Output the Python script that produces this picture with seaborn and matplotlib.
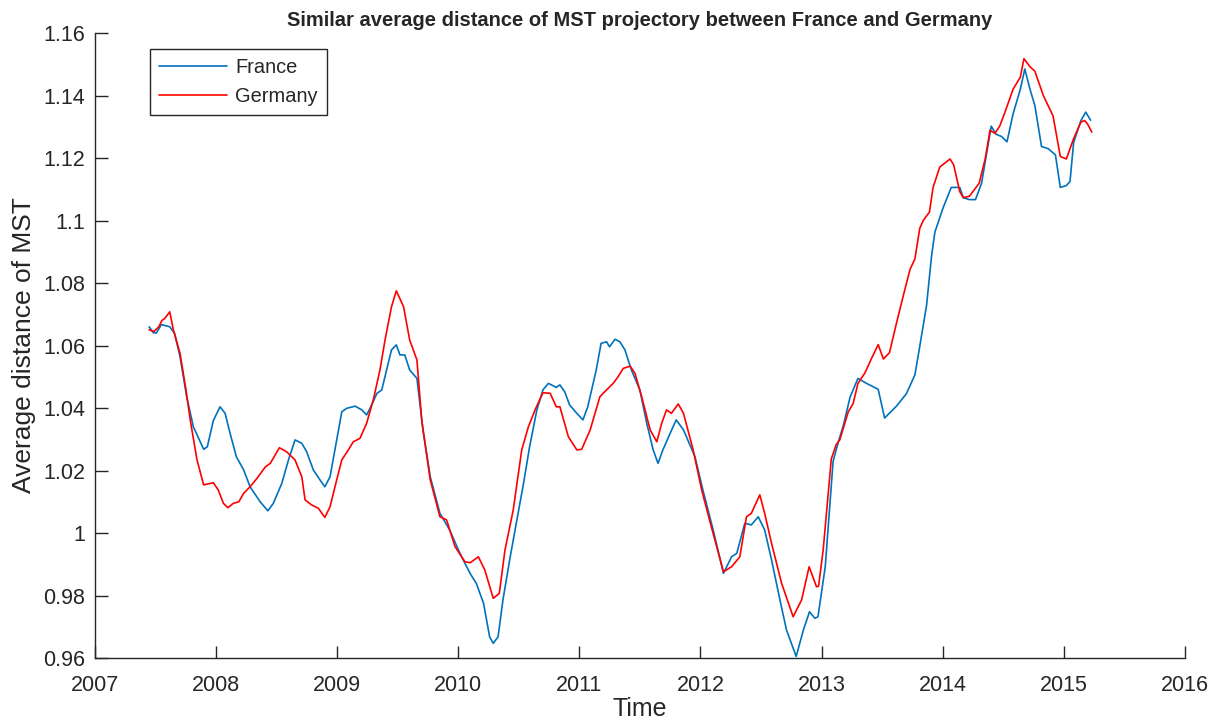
import pandas as pd
import seaborn as sns
import matplotlib.pyplot as plt

# France series (decimal year, average MST distance)
france_year = [
    2007.45, 2007.485, 2007.51, 2007.55, 2007.62, 2007.66, 2007.705, 2007.76, 2007.815, 2007.90,
    2007.93, 2007.98, 2008.035, 2008.077, 2008.118, 2008.17, 2008.23, 2008.283, 2008.366, 2008.43,
    2008.475, 2008.545, 2008.60, 2008.654, 2008.71, 2008.75, 2008.805, 2008.86, 2008.90, 2008.943,
    2008.998, 2009.04, 2009.08, 2009.15, 2009.205, 2009.245, 2009.287, 2009.33, 2009.37, 2009.41,
    2009.45, 2009.49, 2009.52, 2009.56, 2009.60, 2009.66, 2009.71, 2009.77, 2009.85, 2009.93,
    2010.015, 2010.10, 2010.15, 2010.21, 2010.26, 2010.29, 2010.33, 2010.37, 2010.43, 2010.48,
    2010.54, 2010.59, 2010.65, 2010.70, 2010.745, 2010.81, 2010.84, 2010.88, 2010.92, 2010.98,
    2011.03, 2011.07, 2011.14, 2011.18, 2011.225, 2011.25, 2011.295, 2011.335, 2011.377, 2011.43,
    2011.50, 2011.557, 2011.61, 2011.65, 2011.69, 2011.75, 2011.80, 2011.86, 2011.955, 2012.02,
    2012.105, 2012.19, 2012.257, 2012.30, 2012.366, 2012.42, 2012.477, 2012.53, 2012.587, 2012.656,
    2012.71, 2012.79, 2012.85, 2012.90, 2012.945, 2012.97, 2013.03, 2013.095, 2013.137, 2013.18,
    2013.235, 2013.30, 2013.37, 2013.467, 2013.52, 2013.62, 2013.70, 2013.77, 2013.81, 2013.866,
    2013.907, 2013.935, 2014.003, 2014.07, 2014.14, 2014.17, 2014.22, 2014.27, 2014.32, 2014.36,
    2014.40, 2014.44, 2014.485, 2014.53, 2014.58, 2014.64, 2014.677, 2014.72, 2014.76, 2014.815,
    2014.87, 2014.93, 2014.97, 2015.02, 2015.05, 2015.08, 2015.14, 2015.18, 2015.22,
]
france_value = [
    1.066, 1.0641, 1.064, 1.0667, 1.066, 1.0639, 1.0564, 1.0436, 1.034, 1.0268,
    1.0276, 1.036, 1.0404, 1.0383, 1.0319, 1.0244, 1.0202, 1.0148, 1.010, 1.0071,
    1.0095, 1.0159, 1.0234, 1.0298, 1.0287, 1.026, 1.0202, 1.017, 1.0148, 1.018,
    1.0298, 1.0388, 1.0399, 1.0406, 1.0394, 1.0378, 1.041, 1.0447, 1.0458, 1.0522,
    1.0586, 1.0602, 1.057, 1.057, 1.0522, 1.0495, 1.033, 1.018, 1.0063, 1.001,
    0.9935, 0.987, 0.9839, 0.9775, 0.9668, 0.9647, 0.9668, 0.9786, 0.9924, 1.0031,
    1.0159, 1.0276, 1.0394, 1.0458, 1.0479, 1.0466, 1.0474, 1.0452, 1.041, 1.0383,
    1.0362, 1.0404, 1.0522, 1.0607, 1.0612, 1.0596, 1.062, 1.0612, 1.0586, 1.0522,
    1.0458, 1.0351, 1.0266, 1.0223, 1.0266, 1.0319, 1.0362, 1.033, 1.0244, 1.0138,
    1.001, 0.9871, 0.9924, 0.9935, 1.0031, 1.0026, 1.0052, 1.001, 0.9914, 0.9786,
    0.969, 0.9605, 0.969, 0.9748, 0.9727, 0.9732, 0.9892, 1.023, 1.029, 1.0345,
    1.0435, 1.0495, 1.0479, 1.046, 1.0368, 1.0407, 1.0446, 1.0506, 1.0597, 1.0728,
    1.0885, 1.0963, 1.1041, 1.1106, 1.1106, 1.1073, 1.1067, 1.1067, 1.1119, 1.121,
    1.1302, 1.1276, 1.1269, 1.1252, 1.1341, 1.142, 1.1485, 1.142, 1.1368, 1.1237,
    1.123, 1.121, 1.1106, 1.1112, 1.1125, 1.125, 1.132, 1.1347, 1.1321,
]

# Germany series
germany_year = [
    2007.45, 2007.49, 2007.53, 2007.555, 2007.58, 2007.62, 2007.65, 2007.705, 2007.75, 2007.79,
    2007.845, 2007.90, 2007.98, 2008.02, 2008.063, 2008.10, 2008.145, 2008.19, 2008.23, 2008.283,
    2008.34, 2008.41, 2008.45, 2008.525, 2008.585, 2008.654, 2008.71, 2008.737, 2008.79, 2008.847,
    2008.90, 2008.943, 2008.998, 2009.04, 2009.094, 2009.135, 2009.19, 2009.245, 2009.30, 2009.355,
    2009.397, 2009.45, 2009.49, 2009.55, 2009.60, 2009.66, 2009.70, 2009.77, 2009.85, 2009.905,
    2009.975, 2010.056, 2010.10, 2010.167, 2010.22, 2010.29, 2010.34, 2010.387, 2010.455, 2010.525,
    2010.58, 2010.635, 2010.70, 2010.76, 2010.81, 2010.84, 2010.91, 2010.98, 2011.02, 2011.09,
    2011.17, 2011.225, 2011.28, 2011.32, 2011.363, 2011.42, 2011.46, 2011.515, 2011.585, 2011.64,
    2011.68, 2011.72, 2011.76, 2011.817, 2011.86, 2011.94, 2012.01, 2012.09, 2012.19, 2012.257,
    2012.325, 2012.38, 2012.42, 2012.49, 2012.53, 2012.587, 2012.67, 2012.765, 2012.835, 2012.897,
    2012.958, 2012.975, 2013.013, 2013.08, 2013.12, 2013.15, 2013.22, 2013.26, 2013.30, 2013.357,
    2013.41, 2013.467, 2013.51, 2013.56, 2013.62, 2013.67, 2013.73, 2013.77, 2013.81, 2013.84,
    2013.89, 2013.92, 2013.975, 2014.06, 2014.09, 2014.14, 2014.17, 2014.22, 2014.30, 2014.35,
    2014.39, 2014.43, 2014.47, 2014.52, 2014.58, 2014.64, 2014.67, 2014.72, 2014.76, 2014.83,
    2014.91, 2014.97, 2015.02, 2015.08, 2015.14, 2015.17, 2015.195, 2015.23,
]
germany_value = [
    1.065, 1.0645, 1.066, 1.068, 1.0687, 1.0708, 1.065, 1.0575, 1.0468, 1.036,
    1.0234, 1.0154, 1.0161, 1.0138, 1.0095, 1.0081, 1.0095, 1.010, 1.0127, 1.0148,
    1.0175, 1.0212, 1.0223, 1.0273, 1.026, 1.0234, 1.018, 1.0106, 1.009, 1.0079,
    1.005, 1.0084, 1.017, 1.0234, 1.0266, 1.0292, 1.0303, 1.0351, 1.0426, 1.0522,
    1.0618, 1.0724, 1.0775, 1.0724, 1.0618, 1.0554, 1.036, 1.017, 1.0052, 1.0042,
    0.9956, 0.9908, 0.9905, 0.9924, 0.9882, 0.9791, 0.9807, 0.9946, 1.0074, 1.0266,
    1.034, 1.0394, 1.0449, 1.0447, 1.0404, 1.0404, 1.0308, 1.0266, 1.0268, 1.033,
    1.0436, 1.0458, 1.0479, 1.050, 1.0527, 1.0534, 1.0511, 1.0436, 1.033, 1.0292,
    1.0351, 1.0394, 1.0383, 1.0413, 1.0383, 1.0266, 1.0138, 1.002, 0.9876, 0.9892,
    0.9924, 1.0052, 1.0063, 1.0122, 1.0063, 0.9967, 0.9839, 0.9732, 0.9786, 0.9892,
    0.9828, 0.983, 0.9946, 1.0237, 1.0283, 1.0298, 1.0388, 1.0414, 1.0479, 1.0512,
    1.0557, 1.0603, 1.0557, 1.0577, 1.0675, 1.0753, 1.0844, 1.0877, 1.0975, 1.1001,
    1.1027, 1.1106, 1.1171, 1.1197, 1.1178, 1.1093, 1.1073, 1.1078, 1.1119, 1.1197,
    1.1289, 1.1279, 1.1302, 1.1354, 1.142, 1.1459, 1.1518, 1.1492, 1.1478, 1.140,
    1.1335, 1.1205, 1.1197, 1.1262, 1.1315, 1.132, 1.1309, 1.1283,
]

x_ticks = list(range(2007, 2017))
y_ticks = [0.96, 0.98, 1.0, 1.02, 1.04, 1.06, 1.08, 1.1, 1.12, 1.14, 1.16]
y_tick_labels = ["0.96", "0.98", "1", "1.02", "1.04", "1.06", "1.08", "1.1", "1.12", "1.14", "1.16"]

data = pd.concat([
    pd.DataFrame({"year": france_year, "distance": france_value, "country": "France"}),
    pd.DataFrame({"year": germany_year, "distance": germany_value, "country": "Germany"}),
])

sns.set_style("white")
plt.rcParams["font.family"] = ["Liberation Sans", "DejaVu Sans"]

fig = plt.figure(figsize=(12.13, 7.25), dpi=100)
ax = fig.add_axes([0.078, 0.0924, 0.899, 0.862])

sns.lineplot(data=data, x="year", y="distance", hue="country",
             palette={"France": "#0072BD", "Germany": "#FF0000"},
             estimator=None, sort=False, linewidth=1.2, ax=ax)

ax.set_xlim(2007, 2016)
ax.set_ylim(0.96, 1.16)
ax.set_xticks(x_ticks)
ax.set_yticks(y_ticks)
ax.set_yticklabels(y_tick_labels)

# MATLAB-like axes: only left/bottom, ticks pointing in
sns.despine(ax=ax)
for side in ["left", "bottom"]:
    ax.spines[side].set_color("#262626")
    ax.spines[side].set_linewidth(1.0)
ax.tick_params(bottom=True, left=True, direction="in", length=9, width=1.0,
               color="#262626", labelsize=15.5, labelcolor="#262626")
ax.tick_params(axis="y", pad=7)
ax.tick_params(axis="x", pad=12)

ax.set_title("Similar average distance of MST projectory between France and Germany",
             fontsize=14.5, fontweight="bold", pad=5)
ax.set_xlabel("Time", fontsize=18, color="#262626", labelpad=1)
ax.set_ylabel("Average distance of MST", fontsize=19, color="#262626", labelpad=5)

leg = ax.legend(loc="upper left", bbox_to_anchor=(0.0509, 0.9744), borderaxespad=0,
                fontsize=14.4, frameon=True, fancybox=False, framealpha=1,
                handlelength=3.4, handletextpad=0.4, borderpad=0.45, labelspacing=0.5)
leg.get_frame().set_edgecolor("#262626")
leg.get_frame().set_linewidth(1.0)

plt.savefig("out.png", dpi=100)
